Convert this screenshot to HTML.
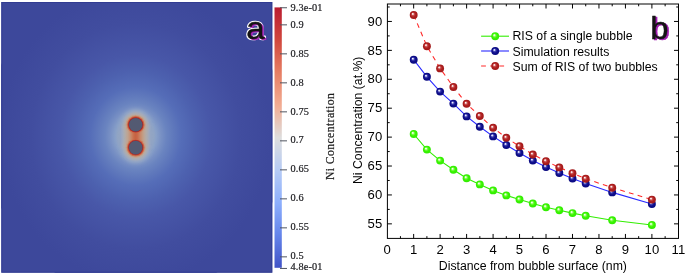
<!DOCTYPE html>
<html><head><meta charset="utf-8"><title>fig</title>
<style>
html,body{margin:0;padding:0;background:#fff;}
body{width:685px;height:275px;overflow:hidden;}
svg{display:block;}
text{font-family:"Liberation Sans",sans-serif;}
.ser{font-family:"Liberation Serif",serif;}
</style></head><body>
<svg width="685" height="275" viewBox="0 0 685 275">
<defs>
<radialGradient id="far" cx="0.5" cy="0.5" r="0.5">
<stop offset="0" stop-color="#98a8c0"/>
<stop offset="0.109" stop-color="#98a8c0"/>
<stop offset="0.137" stop-color="#88a0c8"/>
<stop offset="0.171" stop-color="#7890c4"/>
<stop offset="0.205" stop-color="#6a84c0"/>
<stop offset="0.25" stop-color="#6079bc"/>
<stop offset="0.304" stop-color="#556db8"/>
<stop offset="0.40" stop-color="#4d61af"/>
<stop offset="0.50" stop-color="#4857a8"/>
<stop offset="0.70" stop-color="#414d9f"/>
<stop offset="0.90" stop-color="#3d489b"/>
<stop offset="1" stop-color="#3d489b"/>
</radialGradient>
<linearGradient id="cbar" x1="0" y1="0" x2="0" y2="1">
<stop offset="0" stop-color="#ba1c30"/>
<stop offset="0.125" stop-color="#d0473d"/>
<stop offset="0.25" stop-color="#e67e64"/>
<stop offset="0.375" stop-color="#f2ac92"/>
<stop offset="0.5" stop-color="#dddddd"/>
<stop offset="0.625" stop-color="#b6cbf5"/>
<stop offset="0.75" stop-color="#8daffd"/>
<stop offset="0.875" stop-color="#6484ea"/>
<stop offset="1" stop-color="#4153c7"/>
</linearGradient>
<radialGradient id="mg" cx="0.5" cy="0.5" r="0.5" fx="0.36" fy="0.34">
<stop offset="0" stop-color="#ffffff"/><stop offset="0.14" stop-color="#e4ffd8"/><stop offset="0.34" stop-color="#7dfa4c"/><stop offset="0.6" stop-color="#3af600"/><stop offset="1" stop-color="#30ea00"/>
</radialGradient>
<radialGradient id="mb" cx="0.5" cy="0.5" r="0.5" fx="0.36" fy="0.34">
<stop offset="0" stop-color="#ffffff"/><stop offset="0.14" stop-color="#d8d8f8"/><stop offset="0.34" stop-color="#4444b4"/><stop offset="0.6" stop-color="#10108e"/><stop offset="1" stop-color="#08087e"/>
</radialGradient>
<radialGradient id="mr" cx="0.5" cy="0.5" r="0.5" fx="0.36" fy="0.34">
<stop offset="0" stop-color="#ffffff"/><stop offset="0.14" stop-color="#f8dcdc"/><stop offset="0.34" stop-color="#c85050"/><stop offset="0.6" stop-color="#b02020"/><stop offset="1" stop-color="#a01818"/>
</radialGradient>
</defs>
<rect width="685" height="275" fill="#fff"/>
<g opacity="0.999">

<clipPath id="clipL"><rect x="1.3" y="2" width="271" height="270.7"/></clipPath>
<rect x="1.3" y="2" width="271" height="270.7" fill="#3d489b"/>
<g clip-path="url(#clipL)">
<ellipse cx="135.7" cy="136.2" rx="150" ry="162" fill="url(#far)"/>
<filter id="r0" x="-50%" y="-50%" width="200%" height="200%"><feGaussianBlur stdDeviation="1.6"/></filter>
<rect x="119.19999999999999" y="124.75" width="33.0" height="22.85" fill="#8ea2c6" filter="url(#r0)"/>
<filter id="b0" x="-50%" y="-50%" width="200%" height="200%"><feGaussianBlur stdDeviation="1.6"/></filter>
<g fill="#8ea2c6" filter="url(#b0)"><circle cx="135.7" cy="124.75" r="16.0"/><circle cx="135.7" cy="147.6" r="16.0"/></g>
<filter id="r1" x="-50%" y="-50%" width="200%" height="200%"><feGaussianBlur stdDeviation="1.5"/></filter>
<rect x="121.49999999999999" y="124.75" width="28.4" height="22.85" fill="#a0acc0" filter="url(#r1)"/>
<filter id="b1" x="-50%" y="-50%" width="200%" height="200%"><feGaussianBlur stdDeviation="1.2"/></filter>
<g fill="#a0acc0" filter="url(#b1)"><circle cx="135.7" cy="124.75" r="13.6"/><circle cx="135.7" cy="147.6" r="13.6"/></g>
<filter id="r2" x="-50%" y="-50%" width="200%" height="200%"><feGaussianBlur stdDeviation="1.5"/></filter>
<rect x="123.89999999999999" y="124.75" width="23.6" height="22.85" fill="#b4aca6" filter="url(#r2)"/>
<filter id="b2" x="-50%" y="-50%" width="200%" height="200%"><feGaussianBlur stdDeviation="0.9"/></filter>
<g fill="#b4aca6" filter="url(#b2)"><circle cx="135.7" cy="124.75" r="11.6"/><circle cx="135.7" cy="147.6" r="11.6"/></g>
<filter id="r3" x="-50%" y="-50%" width="200%" height="200%"><feGaussianBlur stdDeviation="1.5"/></filter>
<rect x="127.19999999999999" y="124.75" width="17.0" height="22.85" fill="#c4a088" filter="url(#r3)"/>
<filter id="b3" x="-50%" y="-50%" width="200%" height="200%"><feGaussianBlur stdDeviation="0.75"/></filter>
<g fill="#c4a088" filter="url(#b3)"><circle cx="135.7" cy="124.75" r="10.1"/><circle cx="135.7" cy="147.6" r="10.1"/></g>
<filter id="r4" x="-50%" y="-50%" width="200%" height="200%"><feGaussianBlur stdDeviation="1.5"/></filter>
<rect x="129.89999999999998" y="124.75" width="11.6" height="22.85" fill="#c68a6c" filter="url(#r4)"/>
<filter id="r5" x="-50%" y="-50%" width="200%" height="200%"><feGaussianBlur stdDeviation="1.4"/></filter>
<rect x="131.89999999999998" y="124.75" width="7.6" height="22.85" fill="#cc7453" filter="url(#r5)"/>
<filter id="b5" x="-50%" y="-50%" width="200%" height="200%"><feGaussianBlur stdDeviation="0.6"/></filter>
<g fill="#cc7453" filter="url(#b5)"><circle cx="135.7" cy="124.75" r="8.95"/><circle cx="135.7" cy="147.6" r="8.95"/></g>
<filter id="r6" x="-50%" y="-50%" width="200%" height="200%"><feGaussianBlur stdDeviation="1.3"/></filter>
<rect x="133.7" y="124.75" width="4.0" height="22.85" fill="#c66243" filter="url(#r6)"/>
<filter id="b7" x="-50%" y="-50%" width="200%" height="200%"><feGaussianBlur stdDeviation="0.45"/></filter>
<g fill="#c4442f" filter="url(#b7)"><circle cx="135.7" cy="124.75" r="7.95"/><circle cx="135.7" cy="147.6" r="7.95"/></g>
<filter id="b8" x="-50%" y="-50%" width="200%" height="200%"><feGaussianBlur stdDeviation="0.35"/></filter>
<g fill="#a02028" filter="url(#b8)"><circle cx="135.7" cy="124.75" r="7.25"/><circle cx="135.7" cy="147.6" r="7.25"/></g>
<filter id="b9" x="-50%" y="-50%" width="200%" height="200%"><feGaussianBlur stdDeviation="0.35"/></filter>
<g fill="#525a72" filter="url(#b9)"><circle cx="135.7" cy="124.75" r="6.8"/><circle cx="135.7" cy="147.6" r="6.8"/></g>
</g>
<rect x="1.8" y="2.5" width="270" height="269.7" fill="none" stroke="#2f3a90" stroke-width="1" opacity="0.8"/>
<g opacity="0.999" font-size="30.5" stroke-linejoin="round" transform="translate(246.3 38.7) scale(1.08 1)">
<text fill="#fff" stroke="#fff" stroke-width="2.7">a</text>
<text fill="#a21fb2" stroke="#a21fb2" stroke-width="0.45" transform="translate(1.3 1.3)">a</text>
<text fill="#141414" stroke="#141414" stroke-width="0.45">a</text>
</g>
<rect x="274.5" y="7.4" width="7.3" height="260.4" fill="url(#cbar)"/>
<line x1="280" x2="287" y1="7.75" y2="7.75" stroke="#50545f" stroke-width="1"/>
<text class="ser" x="290.5" y="10.50" font-size="10.3" letter-spacing="0.12" fill="#1e1e22" stroke="#1e1e22" stroke-width="0.22">9.3e-01</text>
<line x1="280" x2="287" y1="24.85" y2="24.85" stroke="#50545f" stroke-width="1"/>
<text class="ser" x="290.5" y="27.75" font-size="10.3" letter-spacing="0.12" fill="#1e1e22" stroke="#1e1e22" stroke-width="0.22">0.9</text>
<line x1="280" x2="287" y1="53.85" y2="53.85" stroke="#50545f" stroke-width="1"/>
<text class="ser" x="290.5" y="56.68" font-size="10.3" letter-spacing="0.12" fill="#1e1e22" stroke="#1e1e22" stroke-width="0.22">0.85</text>
<line x1="280" x2="287" y1="82.85" y2="82.85" stroke="#50545f" stroke-width="1"/>
<text class="ser" x="290.5" y="85.61" font-size="10.3" letter-spacing="0.12" fill="#1e1e22" stroke="#1e1e22" stroke-width="0.22">0.8</text>
<line x1="280" x2="287" y1="111.85" y2="111.85" stroke="#50545f" stroke-width="1"/>
<text class="ser" x="290.5" y="114.54" font-size="10.3" letter-spacing="0.12" fill="#1e1e22" stroke="#1e1e22" stroke-width="0.22">0.75</text>
<line x1="280" x2="287" y1="140.85" y2="140.85" stroke="#50545f" stroke-width="1"/>
<text class="ser" x="290.5" y="143.47" font-size="10.3" letter-spacing="0.12" fill="#1e1e22" stroke="#1e1e22" stroke-width="0.22">0.7</text>
<line x1="280" x2="287" y1="169.85" y2="169.85" stroke="#50545f" stroke-width="1"/>
<text class="ser" x="290.5" y="172.40" font-size="10.3" letter-spacing="0.12" fill="#1e1e22" stroke="#1e1e22" stroke-width="0.22">0.65</text>
<line x1="280" x2="287" y1="198.85" y2="198.85" stroke="#50545f" stroke-width="1"/>
<text class="ser" x="290.5" y="201.33" font-size="10.3" letter-spacing="0.12" fill="#1e1e22" stroke="#1e1e22" stroke-width="0.22">0.6</text>
<line x1="280" x2="287" y1="227.85" y2="227.85" stroke="#50545f" stroke-width="1"/>
<text class="ser" x="290.5" y="230.26" font-size="10.3" letter-spacing="0.12" fill="#1e1e22" stroke="#1e1e22" stroke-width="0.22">0.55</text>
<line x1="280" x2="287" y1="256.85" y2="256.85" stroke="#50545f" stroke-width="1"/>
<text class="ser" x="290.5" y="259.19" font-size="10.3" letter-spacing="0.12" fill="#1e1e22" stroke="#1e1e22" stroke-width="0.22">0.5</text>
<line x1="280" x2="287" y1="268.45" y2="268.45" stroke="#50545f" stroke-width="1"/>
<text class="ser" x="290.5" y="269.90" font-size="10.3" letter-spacing="0.12" fill="#1e1e22" stroke="#1e1e22" stroke-width="0.22">4.8e-01</text>
<text class="ser" font-size="11.8" fill="#1c1c1c" stroke="#1c1c1c" stroke-width="0.2" letter-spacing="0.36" text-anchor="middle" transform="translate(333.8 136.4) rotate(-90)">Ni Concentration</text>
<g stroke="#000" stroke-width="1" fill="none">
<rect x="387.4" y="4" width="291.1" height="234.4"/>
<path d="M400.44 238.45v-2.3M400.44 4v2.3M413.67 238.45v-4.5M413.67 4v4.5M426.90 238.45v-2.3M426.90 4v2.3M440.14 238.45v-4.5M440.14 4v4.5M453.38 238.45v-2.3M453.38 4v2.3M466.61 238.45v-4.5M466.61 4v4.5M479.84 238.45v-2.3M479.84 4v2.3M493.08 238.45v-4.5M493.08 4v4.5M506.31 238.45v-2.3M506.31 4v2.3M519.55 238.45v-4.5M519.55 4v4.5M532.78 238.45v-2.3M532.78 4v2.3M546.02 238.45v-4.5M546.02 4v4.5M559.25 238.45v-2.3M559.25 4v2.3M572.49 238.45v-4.5M572.49 4v4.5M585.72 238.45v-2.3M585.72 4v2.3M598.96 238.45v-4.5M598.96 4v4.5M612.19 238.45v-2.3M612.19 4v2.3M625.43 238.45v-4.5M625.43 4v4.5M638.66 238.45v-2.3M638.66 4v2.3M651.90 238.45v-4.5M651.90 4v4.5M665.13 238.45v-2.3M665.13 4v2.3M387.4 223.85h4.5M678.5 223.85h-4.5M387.4 209.40h2.3M678.5 209.40h-2.3M387.4 194.94h4.5M678.5 194.94h-4.5M387.4 180.48h2.3M678.5 180.48h-2.3M387.4 166.03h4.5M678.5 166.03h-4.5M387.4 151.57h2.3M678.5 151.57h-2.3M387.4 137.11h4.5M678.5 137.11h-4.5M387.4 122.65h2.3M678.5 122.65h-2.3M387.4 108.20h4.5M678.5 108.20h-4.5M387.4 93.74h2.3M678.5 93.74h-2.3M387.4 79.28h4.5M678.5 79.28h-4.5M387.4 64.82h2.3M678.5 64.82h-2.3M387.4 50.37h4.5M678.5 50.37h-4.5M387.4 35.91h2.3M678.5 35.91h-2.3M387.4 21.45h4.5M678.5 21.45h-4.5M387.4 6.99h2.3M678.5 6.99h-2.3"/>
</g>
<text x="387.2" y="254" font-size="13.1" text-anchor="middle" fill="#000">0</text>
<text x="413.7" y="254" font-size="13.1" text-anchor="middle" fill="#000">1</text>
<text x="440.1" y="254" font-size="13.1" text-anchor="middle" fill="#000">2</text>
<text x="466.6" y="254" font-size="13.1" text-anchor="middle" fill="#000">3</text>
<text x="493.1" y="254" font-size="13.1" text-anchor="middle" fill="#000">4</text>
<text x="519.5" y="254" font-size="13.1" text-anchor="middle" fill="#000">5</text>
<text x="546.0" y="254" font-size="13.1" text-anchor="middle" fill="#000">6</text>
<text x="572.5" y="254" font-size="13.1" text-anchor="middle" fill="#000">7</text>
<text x="599.0" y="254" font-size="13.1" text-anchor="middle" fill="#000">8</text>
<text x="625.4" y="254" font-size="13.1" text-anchor="middle" fill="#000">9</text>
<text x="651.9" y="254" font-size="13.1" text-anchor="middle" fill="#000">10</text>
<text x="678.4" y="254" font-size="13.1" text-anchor="middle" fill="#000">11</text>
<text x="382.2" y="228.0" font-size="13.1" text-anchor="end" fill="#000">55</text>
<text x="382.2" y="199.0" font-size="13.1" text-anchor="end" fill="#000">60</text>
<text x="382.2" y="170.1" font-size="13.1" text-anchor="end" fill="#000">65</text>
<text x="382.2" y="141.2" font-size="13.1" text-anchor="end" fill="#000">70</text>
<text x="382.2" y="112.3" font-size="13.1" text-anchor="end" fill="#000">75</text>
<text x="382.2" y="83.4" font-size="13.1" text-anchor="end" fill="#000">80</text>
<text x="382.2" y="54.5" font-size="13.1" text-anchor="end" fill="#000">85</text>
<text x="382.2" y="25.5" font-size="13.1" text-anchor="end" fill="#000">90</text>
<text x="532.9" y="270" font-size="12.27" text-anchor="middle" fill="#000">Distance from bubble surface (nm)</text>
<text font-size="12.27" text-anchor="middle" fill="#000" transform="translate(362.2 120.3) rotate(-90)">Ni Concentration (at.%)</text>
<polyline points="413.7,134.0 426.9,149.6 440.1,160.6 453.4,169.8 466.6,178.2 479.8,184.4 493.1,190.4 506.3,195.4 519.5,199.5 532.8,203.5 546.0,207.2 559.3,210.2 572.5,213.1 585.7,215.8 612.2,220.3 651.9,225.0" fill="none" stroke="#33ee00" stroke-width="1.1"/>
<circle cx="413.7" cy="134.0" r="3.95" fill="url(#mg)"/>
<circle cx="426.9" cy="149.6" r="3.95" fill="url(#mg)"/>
<circle cx="440.1" cy="160.6" r="3.95" fill="url(#mg)"/>
<circle cx="453.4" cy="169.8" r="3.95" fill="url(#mg)"/>
<circle cx="466.6" cy="178.2" r="3.95" fill="url(#mg)"/>
<circle cx="479.8" cy="184.4" r="3.95" fill="url(#mg)"/>
<circle cx="493.1" cy="190.4" r="3.95" fill="url(#mg)"/>
<circle cx="506.3" cy="195.4" r="3.95" fill="url(#mg)"/>
<circle cx="519.5" cy="199.5" r="3.95" fill="url(#mg)"/>
<circle cx="532.8" cy="203.5" r="3.95" fill="url(#mg)"/>
<circle cx="546.0" cy="207.2" r="3.95" fill="url(#mg)"/>
<circle cx="559.3" cy="210.2" r="3.95" fill="url(#mg)"/>
<circle cx="572.5" cy="213.1" r="3.95" fill="url(#mg)"/>
<circle cx="585.7" cy="215.8" r="3.95" fill="url(#mg)"/>
<circle cx="612.2" cy="220.3" r="3.95" fill="url(#mg)"/>
<circle cx="651.9" cy="225.0" r="3.95" fill="url(#mg)"/>
<polyline points="413.7,59.7 426.9,76.8 440.1,91.6 453.4,103.6 466.6,116.4 479.8,126.8 493.1,136.4 506.3,145.0 519.5,153.0 532.8,160.6 546.0,167.0 559.3,173.0 572.5,178.5 585.7,183.5 612.2,192.4 651.9,204.0" fill="none" stroke="#2a2aff" stroke-width="1.1"/>
<circle cx="413.7" cy="59.7" r="3.95" fill="url(#mb)"/>
<circle cx="426.9" cy="76.8" r="3.95" fill="url(#mb)"/>
<circle cx="440.1" cy="91.6" r="3.95" fill="url(#mb)"/>
<circle cx="453.4" cy="103.6" r="3.95" fill="url(#mb)"/>
<circle cx="466.6" cy="116.4" r="3.95" fill="url(#mb)"/>
<circle cx="479.8" cy="126.8" r="3.95" fill="url(#mb)"/>
<circle cx="493.1" cy="136.4" r="3.95" fill="url(#mb)"/>
<circle cx="506.3" cy="145.0" r="3.95" fill="url(#mb)"/>
<circle cx="519.5" cy="153.0" r="3.95" fill="url(#mb)"/>
<circle cx="532.8" cy="160.6" r="3.95" fill="url(#mb)"/>
<circle cx="546.0" cy="167.0" r="3.95" fill="url(#mb)"/>
<circle cx="559.3" cy="173.0" r="3.95" fill="url(#mb)"/>
<circle cx="572.5" cy="178.5" r="3.95" fill="url(#mb)"/>
<circle cx="585.7" cy="183.5" r="3.95" fill="url(#mb)"/>
<circle cx="612.2" cy="192.4" r="3.95" fill="url(#mb)"/>
<circle cx="651.9" cy="204.0" r="3.95" fill="url(#mb)"/>
<polyline points="413.7,15.0 426.9,46.2 440.1,68.4 453.4,87.0 466.6,103.8 479.8,116.0 493.1,127.8 506.3,137.8 519.5,146.2 532.8,154.5 546.0,161.2 559.3,167.4 572.5,173.2 585.7,178.7 612.2,187.7 651.9,199.6" fill="none" stroke="#ff2a2a" stroke-width="1.1" stroke-dasharray="4.8 4.3"/>
<circle cx="413.7" cy="15.0" r="3.95" fill="url(#mr)"/>
<circle cx="426.9" cy="46.2" r="3.95" fill="url(#mr)"/>
<circle cx="440.1" cy="68.4" r="3.95" fill="url(#mr)"/>
<circle cx="453.4" cy="87.0" r="3.95" fill="url(#mr)"/>
<circle cx="466.6" cy="103.8" r="3.95" fill="url(#mr)"/>
<circle cx="479.8" cy="116.0" r="3.95" fill="url(#mr)"/>
<circle cx="493.1" cy="127.8" r="3.95" fill="url(#mr)"/>
<circle cx="506.3" cy="137.8" r="3.95" fill="url(#mr)"/>
<circle cx="519.5" cy="146.2" r="3.95" fill="url(#mr)"/>
<circle cx="532.8" cy="154.5" r="3.95" fill="url(#mr)"/>
<circle cx="546.0" cy="161.2" r="3.95" fill="url(#mr)"/>
<circle cx="559.3" cy="167.4" r="3.95" fill="url(#mr)"/>
<circle cx="572.5" cy="173.2" r="3.95" fill="url(#mr)"/>
<circle cx="585.7" cy="178.7" r="3.95" fill="url(#mr)"/>
<circle cx="612.2" cy="187.7" r="3.95" fill="url(#mr)"/>
<circle cx="651.9" cy="199.6" r="3.95" fill="url(#mr)"/>
<line x1="481.1" x2="509" y1="36.2" y2="36.2" stroke="#33ee00" stroke-width="1.1"/>
<circle cx="495.2" cy="36.2" r="3.95" fill="url(#mg)"/>
<text x="512.5" y="40.1" font-size="12.27" fill="#000">RIS of a single bubble</text>
<line x1="481.1" x2="509" y1="51" y2="51" stroke="#2a2aff" stroke-width="1.1"/>
<circle cx="495.2" cy="51" r="3.95" fill="url(#mb)"/>
<text x="512.5" y="55.6" font-size="12.27" fill="#000">Simulation results</text>
<line x1="481.1" x2="508" y1="66" y2="66" stroke="#ff2a2a" stroke-width="1.1" stroke-dasharray="4.8 4.3"/>
<circle cx="495.2" cy="66" r="3.95" fill="url(#mr)"/>
<text x="512.5" y="70.5" font-size="12.27" fill="#000">Sum of RIS of two bubbles</text>
<g font-size="31.5" stroke-linejoin="round" transform="translate(650.2 38.7) scale(1.04 1)">
<text fill="#a21fb2" stroke="#a21fb2" stroke-width="0.45" transform="translate(1.8 1.6)">b</text>
<text fill="#141414" stroke="#141414" stroke-width="0.45">b</text>
</g>
</g></svg></body></html>
